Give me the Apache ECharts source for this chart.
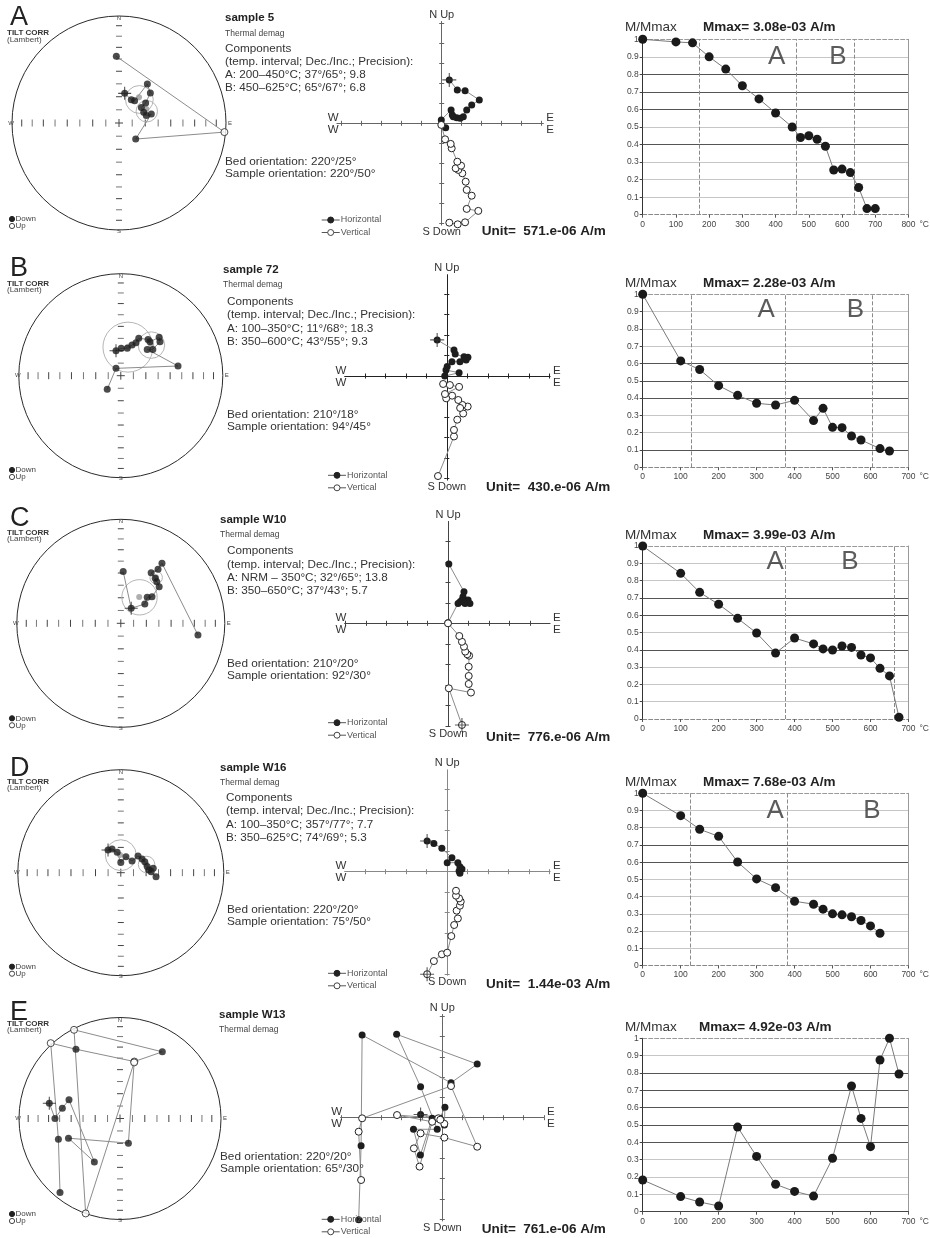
<!DOCTYPE html>
<html><head><meta charset="utf-8">
<script src="https://cdn.jsdelivr.net/npm/echarts@6/dist/echarts.min.js"></script>
<style>html,body{margin:0;padding:0;background:#fff}#chart{width:930px;height:1238px}</style>
</head><body><div id="chart"></div>
<script>
// ===================== DATA =====================
const panelLetters = ['A', 'B', 'C', 'D', 'E'];
const sampleNames = ['sample 5', 'sample 72', 'sample W10', 'sample W16', 'sample W13'];
const componentA = ['A: 200–450°C; 37°/65°; 9.8', 'A: 100–350°C; 11°/68°; 18.3', 'A: NRM – 350°C; 32°/65°; 13.8', 'A: 100–350°C; 357°/77°; 7.7', null];
const componentB = ['B: 450–625°C; 65°/67°; 6.8', 'B: 350–600°C; 43°/55°; 9.3', 'B: 350–650°C; 37°/43°; 5.7', 'B: 350–625°C; 74°/69°; 5.3', null];
const bedOrient = ['220°/25°', '210°/18°', '210°/20°', '220°/20°', '220°/20°'];
const sampleOrient = ['220°/50°', '94°/45°', '92°/30°', '75°/50°', '65°/30°'];
const unitLabels = ['571.e-06', '430.e-06', '776.e-06', '1.44e-03', '761.e-06'];
const mmaxLabels = ['3.08e-03', '2.28e-03', '3.99e-03', '7.68e-03', '4.92e-03'];
const yTickLabels = ['0', '0.1', '0.2', '0.3', '0.4', '0.5', '0.6', '0.7', '0.8', '0.9', '1'];

// Demagnetisation curves (temperature °C, M/Mmax)
const demagTempA = [0, 100, 150, 200, 250, 300, 350, 400, 450, 475, 500, 525, 550, 575, 600, 625, 650, 675, 700];
const demagValA = [1.0, 0.985, 0.98, 0.90, 0.83, 0.735, 0.66, 0.58, 0.50, 0.44, 0.45, 0.43, 0.39, 0.255, 0.26, 0.24, 0.155, 0.035, 0.035];
const demagTempB = [0, 100, 150, 200, 250, 300, 350, 400, 450, 475, 500, 525, 550, 575, 625, 650];
const demagValB = [1.0, 0.615, 0.565, 0.472, 0.416, 0.37, 0.36, 0.387, 0.27, 0.341, 0.231, 0.229, 0.181, 0.158, 0.108, 0.094];
const demagTempC = [0, 100, 150, 200, 250, 300, 350, 400, 450, 475, 500, 525, 550, 575, 600, 625, 650, 675];
const demagValC = [1.0, 0.842, 0.732, 0.663, 0.582, 0.497, 0.381, 0.468, 0.434, 0.405, 0.399, 0.422, 0.414, 0.37, 0.353, 0.293, 0.249, 0.01];
const demagTempD = [0, 100, 150, 200, 250, 300, 350, 400, 450, 475, 500, 525, 550, 575, 600, 625];
const demagValD = [1.0, 0.87, 0.791, 0.75, 0.601, 0.503, 0.452, 0.373, 0.356, 0.327, 0.30, 0.294, 0.283, 0.261, 0.23, 0.187];
const demagTempE = [0, 100, 150, 200, 250, 300, 350, 400, 450, 500, 550, 575, 600, 625, 650, 675];
const demagValE = [0.183, 0.087, 0.056, 0.033, 0.488, 0.319, 0.158, 0.117, 0.09, 0.308, 0.725, 0.538, 0.375, 0.875, 1.0, 0.794];
const demagMaxT = [800, 700, 700, 700, 700];
const boundaryTemps = [[170, 462, 637], [127, 375, 605], [375, 662], [125, 380], []];

// Stereonets: Lambert projected [east, north, isUp]
const stereoA = [[0.053, 0.277, 0], [0.115, 0.218, 0], [0.146, 0.209, 0], [0.265, 0.364, 0], [0.293, 0.28, 0], [0.249, 0.187, 0], [0.209, 0.146, 0], [0.231, 0.1, 0], [0.255, 0.069, 0], [0.302, 0.084, 0], [0.156, -0.15, 0], [0.985, -0.085, 1], [-0.025, 0.623, 0]];
const stereoB = [[-0.047, 0.245, 0], [0.004, 0.268, 0], [0.063, 0.268, 0], [0.11, 0.3, 0], [0.149, 0.324, 0], [0.176, 0.366, 0], [0.267, 0.356, 0], [0.286, 0.333, 0], [0.376, 0.376, 0], [0.384, 0.333, 0], [0.314, 0.258, 0], [0.259, 0.258, 0], [0.561, 0.095, 0], [-0.047, 0.072, 0], [-0.133, -0.133, 0]];
const stereoC = [[0.023, 0.497, 0], [0.1, 0.144, 0], [0.231, 0.186, 0], [0.254, 0.25, 0], [0.3, 0.256, 0], [0.369, 0.352, 0], [0.346, 0.4, 0], [0.331, 0.432, 0], [0.292, 0.487, 0], [0.358, 0.519, 0], [0.396, 0.577, 0], [0.742, -0.113, 0]];
const stereoD = [[-0.124, 0.221, 0], [-0.085, 0.231, 0], [-0.035, 0.198, 0], [0.0, 0.098, 0], [0.05, 0.156, 0], [0.109, 0.114, 0], [0.167, 0.162, 0], [0.206, 0.133, 0], [0.233, 0.107, 0], [0.256, 0.059, 0], [0.315, 0.042, 0], [0.272, 0.026, 0], [0.295, 0.01, 0], [0.342, -0.039, 0]];
const stereoE = [[-0.594, -0.733, 0], [-0.61, -0.205, 0], [-0.686, 0.746, 1], [-0.436, 0.686, 0], [0.142, 0.564, 1], [0.419, 0.66, 0], [-0.455, 0.878, 1], [-0.34, -0.94, 1], [0.14, 0.555, 1], [0.083, -0.244, 0], [-0.51, -0.195, 0], [-0.254, -0.43, 0], [-0.505, 0.185, 0], [-0.571, 0.102, 0], [-0.644, 0.0, 0], [-0.7, 0.152, 0]];
const stereoCrossIdx = [0, 0, 1, 0, 15];
const meanA = [[0.187, 0.24], [0.255, 0.131]];
const meanB = [[0.071, 0.284], [0.298, 0.301]];
const meanC = [[0.177, 0.252], [0.338, 0.442]];
const meanD = [[-0.007, 0.172], [0.245, 0.081]];
const meanE = [];
const alpha95A = [[0.19, 0.22, 0.13], [0.26, 0.11, 0.1]];
const alpha95B = [[0.07, 0.28, 0.245], [0.3, 0.3, 0.13]];
const alpha95C = [[0.18, 0.25, 0.17], [0.34, 0.44, 0.06]];
const alpha95D = [[0.0, 0.17, 0.15], [0.25, 0.08, 0.08]];
const alpha95E = [];
const stereoTickInc = [10, 20, 30, 40, 50, 60, 70, 80];

// Zijderveld (units of the diagram tick): horizontal [E, N], vertical [E, Up]
const zijHA = [[0.38, 2.17], [0.78, 1.67], [1.17, 1.63], [1.88, 1.17], [1.5, 0.92], [1.25, 0.67], [1.08, 0.33], [0.92, 0.25], [0.75, 0.28], [0.58, 0.33], [0.53, 0.42], [0.47, 0.67], [-0.02, 0.17], [0.2, -0.22]];
const zijVA = [[0.38, -4.97], [0.8, -5.05], [1.17, -4.95], [1.83, -4.38], [1.25, -4.28], [1.5, -3.62], [1.25, -3.33], [1.2, -2.92], [1.03, -2.5], [0.83, -2.33], [0.7, -2.25], [0.97, -2.12], [0.78, -1.92], [0.5, -1.25], [0.45, -1.03], [0.17, -0.8], [-0.02, -0.08]];
const zijHB = [[-0.47, 1.76], [0.35, 1.27], [0.41, 1.07], [0.84, 0.94], [1.03, 0.91], [0.94, 0.78], [0.64, 0.7], [0.25, 0.7], [0.02, 0.46], [-0.04, 0.29], [0.6, 0.16], [-0.1, 0.0]];
const zijVB = [[-0.43, -4.88], [0.35, -2.95], [0.35, -2.63], [0.51, -2.13], [0.8, -1.83], [1.02, -1.49], [0.76, -1.41], [0.65, -1.56], [0.56, -1.17], [0.26, -0.96], [-0.03, -1.09], [-0.09, -0.88], [0.6, -0.53], [0.15, -0.44], [-0.18, -0.39]];
const zijHC = [[0.04, 2.89], [0.78, 1.54], [0.73, 1.3], [0.98, 1.14], [0.68, 1.14], [0.59, 1.05], [0.83, 0.97], [1.07, 0.97], [0.49, 0.97], [0.0, 0.03]];
const zijVC = [[0.68, -4.96], [0.04, -3.17], [1.12, -3.38], [1.01, -2.96], [1.01, -2.57], [1.01, -2.12], [1.03, -1.58], [0.94, -1.51], [0.84, -1.38], [0.78, -1.14], [0.68, -0.9], [0.55, -0.62], [0.0, 0.0]];
const zijHD = [[-0.98, 1.5], [-0.65, 1.38], [-0.26, 1.14], [0.23, 0.68], [0.0, 0.44], [0.52, 0.44], [0.62, 0.24], [0.72, 0.13], [0.58, 0.03], [0.62, -0.08]];
const zijVD = [[-0.98, -5.0], [-0.65, -4.36], [-0.26, -4.03], [0.0, -3.95], [0.2, -3.14], [0.34, -2.6], [0.52, -2.28], [0.46, -1.9], [0.62, -1.66], [0.66, -1.46], [0.58, -1.3], [0.43, -1.17], [0.43, -0.93]];
const zijHE = [[-4.12, -5.03], [-4.0, -1.38], [-3.95, 4.07], [0.43, 1.72], [1.72, 2.64], [-2.25, 4.11], [-1.07, 1.52], [-0.25, -0.57], [-1.42, -0.57], [-1.08, -1.84], [-0.5, -0.03], [-1.07, 0.16], [-0.12, -0.03], [0.13, 0.51], [0.1, -0.36]];
const zijVE = [[-4.0, -3.07], [-4.12, -0.69], [-3.95, -0.03], [0.43, 1.56], [1.72, -1.43], [0.1, -0.98], [-1.07, -0.77], [-1.4, -1.51], [-1.12, -2.41], [-0.5, -0.2], [-2.23, 0.13], [-0.2, -0.03], [0.1, -0.3], [-0.1, -0.1]];
const zijCrossH = [0, 0, null, 0, 11];
const zijCrossV = [null, null, 0, 0, null];
const zijTicks = [-5, -4, -3, -2, -1, 1, 2, 3, 4, 5];

// ===================== LAYOUT / STYLE =====================
const FF = '"Liberation Sans", Arial, Helvetica, sans-serif';
const stereoLayout = [{cx: 119, cy: 123, r: 107}, {cx: 120.8, cy: 375.7, r: 102}, {cx: 120.8, cy: 623.3, r: 104}, {cx: 120.8, cy: 872.7, r: 103}, {cx: 120, cy: 1118.5, r: 101}];
const zijLayout = [
  {cx: 441.7, cy: 123.3, s: 20, x0: -5.23, x1: 5.07, y0: -5.08, y1: 5.08, col: '#666'},
  {cx: 446.8, cy: 376, s: 20.5, x0: -4.97, x1: 5.03, y0: -5.07, y1: 4.93, col: '#222'},
  {cx: 448, cy: 623.3, s: 20.5, x0: -5.03, x1: 4.97, y0: -5.04, y1: 4.96, col: '#444'},
  {cx: 447.2, cy: 871.7, s: 20.5, x0: -4.99, x1: 5.01, y0: -5.04, y1: 4.96, col: '#888'},
  {cx: 442.3, cy: 1117.7, s: 20.3, x0: -5.0, x1: 5.0, y0: -5.08, y1: 5.08, col: '#666'}
];
const demagLayout = [{top: 39.3, bottom: 214.7}, {top: 294.3, bottom: 467.3}, {top: 546, bottom: 719}, {top: 793.3, bottom: 965.5}, {top: 1038.3, bottom: 1211.7}];
const demagLeft = 642.7, demagRight = 911.7;
const Lg = '#c6c6c6', Dk = '#555', Tr = 'rgba(0,0,0,0)';
const gridColors = [
  [Tr, Lg, Lg, Lg, Dk, Lg, Dk, Dk, Dk, Lg, Tr],
  [Tr, Dk, Lg, Lg, Dk, Dk, Dk, Lg, Lg, Lg, Tr],
  [Tr, Lg, Lg, Lg, Dk, Lg, Dk, Dk, Lg, Lg, Tr],
  [Tr, Lg, Lg, Lg, Lg, Lg, Dk, Dk, Lg, Lg, Tr],
  [Tr, Lg, Lg, Lg, Dk, Dk, Dk, Dk, Dk, Lg, Tr]
];
const compLabelPos = [[[403, 0.9], [588, 0.9]], [[325, 0.91], [560, 0.91]], [[349, 0.907], [546, 0.907]], [[349, 0.9], [604, 0.9]], []];
const letterY = [17.5, 269, 518.5, 768.5, 1012.5];
const tiltY = [33, 283.3, 532.3, 781.7, 1023.3];
const downY = [219, 470, 718.3, 966.7, 1214];
const sampleX = [225, 223, 220, 220, 219];
const sampleY = [18, 270, 520, 768.3, 1015];
const thermalY = [33.3, 285, 534.3, 782.3, 1030];
const compX = [225, 227, 227, 226];
const compY = [48.3, 301.7, 551, 797.7];
const bedX = [225, 227, 227, 227, 220];
const bedY = [161.7, 414.3, 663.3, 909.3, 1156.7];
const legX = [321.7, 328, 328, 328, 321.7];
const legY = [220, 475.3, 722.7, 973.3, 1219.3];
const unitX = [481.7, 486, 486, 486, 481.7];
const unitY = [231.7, 487.3, 737.3, 984.3, 1229.3];
const mmY = [27, 283.3, 535, 782, 1027.3];
const mmaxX = [703, 703, 703, 703, 699];

// ===================== BUILD =====================
const demagTemps = [demagTempA, demagTempB, demagTempC, demagTempD, demagTempE];
const demagVals = [demagValA, demagValB, demagValC, demagValD, demagValE];
const stereos = [stereoA, stereoB, stereoC, stereoD, stereoE];
const means = [meanA, meanB, meanC, meanD, meanE];
const alphas = [alpha95A, alpha95B, alpha95C, alpha95D, alpha95E];
const zijH = [zijHA, zijHB, zijHC, zijHD, zijHE];
const zijV = [zijVA, zijVB, zijVC, zijVD, zijVE];

const CROSS = 'path://M0,4.6H10V5.4H0ZM4.6,0H5.4V10H4.6Z';
const grids = [], xAxes = [], yAxes = [], series = [], graphics = [];
const addGrid = g => (grids.push(g), grids.length - 1);
const addX = a => (xAxes.push(a), xAxes.length - 1);
const addY = a => (yAxes.push(a), yAxes.length - 1);

function txt(x, y, text, size, o) {
  o = o || {};
  const al = o.align || 'left';
  graphics.push({type: 'text', x: x, y: y, silent: true, z: 50,
    style: {text: text, font: (o.bold ? 'bold ' : '') + size + 'px ' + FF, fill: o.color || '#333',
      align: al, textAlign: al, verticalAlign: 'middle', textVerticalAlign: 'middle'}});
}
function gline(x1, y1, x2, y2, col, w) {
  graphics.push({type: 'line', silent: true, z: 50, shape: {x1: x1, y1: y1, x2: x2, y2: y2}, style: {stroke: col, lineWidth: w || 1}});
}
function gcirc(cx, cy, r, fill, stroke) {
  graphics.push({type: 'circle', silent: true, z: 51, shape: {cx: cx, cy: cy, r: r}, style: {fill: fill, stroke: stroke, lineWidth: 1}});
}

function seg(x1, y1, x2, y2, col) {
  return {type: 'line', shape: {x1: x1, y1: y1, x2: x2, y2: y2}, style: {stroke: col, lineWidth: 1}};
}
function stereoFrame(params, api) {
  const c = api.coord([0, 0]);
  const rx = api.coord([1, 0])[0] - c[0];
  const ry = c[1] - api.coord([0, 1])[1];
  const ch = [{type: 'circle', shape: {cx: c[0], cy: c[1], r: rx}, style: {fill: 'none', stroke: '#2a2a2a', lineWidth: 1}}];
  ch.push(seg(c[0] - 4, c[1], c[0] + 4, c[1], '#444'), seg(c[0], c[1] - 4, c[0], c[1] + 4, '#444'));
  stereoTickInc.forEach(function (inc, k) {
    const d = Math.SQRT2 * Math.sin((90 - inc) / 2 * Math.PI / 180);
    const col = k % 2 ? '#777' : '#444';
    const px = d * rx, py = d * ry;
    ch.push(seg(c[0] + px, c[1] - 3.5, c[0] + px, c[1] + 3.5, col));
    ch.push(seg(c[0] - px, c[1] - 3.5, c[0] - px, c[1] + 3.5, col));
    ch.push(seg(c[0] - 3, c[1] - py, c[0] + 3, c[1] - py, col));
    ch.push(seg(c[0] - 3, c[1] + py, c[0] + 3, c[1] + py, col));
  });
  const lab = function (t, x, y) {
    return {type: 'text', style: {text: t, x: x, y: y, font: '6px ' + FF, fill: '#444', align: 'center', verticalAlign: 'middle', textAlign: 'center', textVerticalAlign: 'middle'}};
  };
  ch.push(lab('N', c[0], c[1] - ry + 2.5), lab('S', c[0], c[1] + ry + 1), lab('W', c[0] - rx - 1, c[1]), lab('E', c[0] + rx + 4, c[1]));
  return {type: 'group', children: ch};
}
function ringItem(params, api) {
  const c = api.coord([api.value(0), api.value(1)]);
  const r = api.size([api.value(2), 0])[0];
  return {type: 'circle', shape: {cx: c[0], cy: c[1], r: r}, style: {fill: 'none', stroke: '#b5b5b5', lineWidth: 1}};
}

for (let i = 0; i < 5; i++) {
  // ---------- Stereonet ----------
  const S = stereoLayout[i];
  let gi = addGrid({left: S.cx - S.r, top: S.cy - S.r, width: 2 * S.r, height: 2 * S.r});
  let xi = addX({type: 'value', gridIndex: gi, min: -1, max: 1, show: false});
  let yi = addY({type: 'value', gridIndex: gi, min: -1, max: 1, show: false});
  const sAx = {xAxisIndex: xi, yAxisIndex: yi};
  series.push(Object.assign({type: 'custom', silent: true, z: 1, data: [[0, 0]], renderItem: stereoFrame, clip: false}, sAx));
  if (alphas[i].length) series.push(Object.assign({type: 'custom', silent: true, z: 2, data: alphas[i], renderItem: ringItem}, sAx));
  const pts = stereos[i];
  series.push(Object.assign({type: 'line', silent: true, z: 3, symbol: 'none', data: pts.map(p => [p[0], p[1]]), lineStyle: {color: '#8c8c8c', width: 1}}, sAx));
  if (means[i].length) series.push(Object.assign({type: 'scatter', silent: true, z: 4, data: means[i], symbolSize: 6, itemStyle: {color: '#9a9a9a'}}, sAx));
  series.push(Object.assign({type: 'scatter', silent: true, z: 5, data: pts.filter(p => !p[2]).map(p => [p[0], p[1]]), symbolSize: 7, itemStyle: {color: '#1e1e1e'}}, sAx));
  series.push(Object.assign({type: 'scatter', silent: true, z: 5, data: pts.filter(p => p[2]).map(p => [p[0], p[1]]), symbolSize: 7, itemStyle: {color: '#fff', borderColor: '#222', borderWidth: 1}}, sAx));
  const cp = pts[stereoCrossIdx[i]];
  series.push(Object.assign({type: 'scatter', silent: true, z: 6, data: [[cp[0], cp[1]]], symbol: CROSS, symbolSize: 13, itemStyle: {color: '#222'}}, sAx));

  txt(10, letterY[i], panelLetters[i], 27, {color: '#222'});
  txt(7, tiltY[i], 'TILT CORR', 8, {bold: true, color: '#333'});
  txt(7, tiltY[i] + 6.5, '(Lambert)', 8, {color: '#444'});
  gcirc(12, downY[i], 2.6, '#222', '#222');
  txt(15.5, downY[i], 'Down', 8, {color: '#444'});
  gcirc(12, downY[i] + 7, 2.6, '#fff', '#444');
  txt(15.5, downY[i] + 7, 'Up', 8, {color: '#444'});

  // ---------- Text block ----------
  txt(sampleX[i], sampleY[i], sampleNames[i], 11.5, {bold: true, color: '#222'});
  txt(sampleX[i], thermalY[i], 'Thermal demag', 8.5, {color: '#444'});
  if (componentA[i]) {
    const cl = ['Components', '(temp. interval; Dec./Inc.; Precision):', componentA[i], componentB[i]];
    cl.forEach((t, k) => txt(compX[i], compY[i] + k * 13.3, t, 11.7, {color: '#333'}));
  }
  txt(bedX[i], bedY[i], 'Bed orientation: ' + bedOrient[i], 11.8, {color: '#333'});
  txt(bedX[i], bedY[i] + 12.2, 'Sample orientation: ' + sampleOrient[i], 11.8, {color: '#333'});

  // ---------- Zijderveld ----------
  const Z = zijLayout[i];
  const zl = Z.cx + Z.x0 * Z.s, zr = Z.cx + Z.x1 * Z.s, zt = Z.cy - Z.y1 * Z.s, zb = Z.cy - Z.y0 * Z.s;
  gi = addGrid({left: zl, top: zt, width: zr - zl, height: zb - zt});
  const zAxis = function (min, max, pos) {
    return {type: 'value', gridIndex: gi, min: min, max: max, position: pos,
      axisLabel: {show: false}, splitLine: {show: false},
      axisLine: {show: true, onZero: true, lineStyle: {color: Z.col, width: 1}},
      axisTick: {show: true, length: 2.5, customValues: zijTicks, lineStyle: {color: Z.col, width: 1}}};
  };
  xi = addX(zAxis(Z.x0, Z.x1, 'bottom'));
  addX(zAxis(Z.x0, Z.x1, 'top'));
  yi = addY(zAxis(Z.y0, Z.y1, 'left'));
  addY(zAxis(Z.y0, Z.y1, 'right'));
  const zAx = {xAxisIndex: xi, yAxisIndex: yi};
  series.push(Object.assign({type: 'line', silent: true, z: 4, data: zijH[i], symbol: 'circle', symbolSize: 7, showAllSymbol: true,
    lineStyle: {color: '#8c8c8c', width: 1}, itemStyle: {color: '#1e1e1e'}}, zAx));
  series.push(Object.assign({type: 'line', silent: true, z: 4, data: zijV[i], symbol: 'circle', symbolSize: 7, showAllSymbol: true,
    lineStyle: {color: '#8c8c8c', width: 1}, itemStyle: {color: '#fff', borderColor: '#222', borderWidth: 1}}, zAx));
  const zc = [];
  if (zijCrossH[i] != null) zc.push(zijH[i][zijCrossH[i]]);
  if (zijCrossV[i] != null) zc.push(zijV[i][zijCrossV[i]]);
  if (zc.length) series.push(Object.assign({type: 'scatter', silent: true, z: 6, data: zc, symbol: CROSS, symbolSize: 14, itemStyle: {color: '#333'}}, zAx));

  txt(Z.cx, zt - 7, 'N Up', 11, {align: 'center', color: '#333'});
  txt(Z.cx, zb + 7, 'S Down', 11, {align: 'center', color: '#333'});
  txt(zl - 4, Z.cy - 5.5, 'W', 11.5, {align: 'center', color: '#333'});
  txt(zl - 4, Z.cy + 6.5, 'W', 11.5, {align: 'center', color: '#333'});
  txt(zr + 7, Z.cy - 5.5, 'E', 11.5, {align: 'center', color: '#333'});
  txt(zr + 7, Z.cy + 6.5, 'E', 11.5, {align: 'center', color: '#333'});
  // legend
  gline(legX[i], legY[i], legX[i] + 18, legY[i], '#555', 1);
  gcirc(legX[i] + 9, legY[i], 3, '#222', '#222');
  txt(legX[i] + 19, legY[i], 'Horizontal', 9, {color: '#555'});
  gline(legX[i], legY[i] + 12.5, legX[i] + 18, legY[i] + 12.5, '#555', 1);
  gcirc(legX[i] + 9, legY[i] + 12.5, 3, '#fff', '#444');
  txt(legX[i] + 19, legY[i] + 12.5, 'Vertical', 9, {color: '#555'});
  txt(unitX[i], unitY[i], 'Unit=  ' + unitLabels[i] + ' A/m', 13.5, {bold: true, color: '#222'});

  // ---------- Demagnetisation curve ----------
  const D = demagLayout[i];
  gi = addGrid({left: demagLeft, top: D.top, width: demagRight - demagLeft, height: D.bottom - D.top});
  xi = addX({type: 'value', gridIndex: gi, min: 0, max: demagMaxT[i], interval: 100, position: 'bottom',
    axisLine: {show: true, onZero: false, lineStyle: {color: i === 4 ? '#444' : '#888', type: i === 4 ? 'solid' : 'dashed'}},
    axisTick: {show: true, length: 3, lineStyle: {color: '#555'}},
    axisLabel: {fontSize: 8.5, color: '#444', margin: 5, fontFamily: FF},
    splitLine: {show: false},
    name: '°C', nameLocation: 'end', nameGap: 7,
    nameTextStyle: {fontSize: 8.5, color: '#444', fontFamily: FF, verticalAlign: 'top', align: 'left', padding: [5, 0, 0, 0]}});
  addX({type: 'value', gridIndex: gi, min: 0, max: demagMaxT[i], position: 'top',
    axisLine: {show: true, onZero: false, lineStyle: {color: '#999', type: 'dashed'}},
    axisTick: {show: false}, axisLabel: {show: false}, splitLine: {show: false}});
  yi = addY({type: 'value', gridIndex: gi, min: 0, max: 1, interval: 0.1, position: 'left',
    axisLine: {show: true, onZero: false, lineStyle: {color: '#333'}},
    axisTick: {show: true, length: 3, lineStyle: {color: '#444'}},
    axisLabel: {fontSize: 8.5, color: '#444', margin: 4, fontFamily: FF, formatter: v => yTickLabels[Math.round(v * 10)]},
    splitLine: {show: true, lineStyle: {color: gridColors[i], width: 1}}});
  addY({type: 'value', gridIndex: gi, min: 0, max: 1, position: 'right',
    axisLine: {show: true, onZero: false, lineStyle: {color: '#9a9a9a'}},
    axisTick: {show: false}, axisLabel: {show: false}, splitLine: {show: false}});
  const dAx = {xAxisIndex: xi, yAxisIndex: yi};
  series.push(Object.assign({type: 'line', silent: true, z: 5, data: demagTemps[i].map((t, k) => [t, demagVals[i][k]]),
    symbol: 'circle', symbolSize: 9, showAllSymbol: true, itemStyle: {color: '#1a1a1a'}, lineStyle: {color: '#7a7a7a', width: 1},
    markLine: {silent: true, symbol: ['none', 'none'], label: {show: false}, animation: false,
      lineStyle: {type: 'dashed', color: '#8a8a8a', width: 1}, data: boundaryTemps[i].map(t => ({xAxis: t}))}}, dAx));
  if (compLabelPos[i].length) {
    series.push(Object.assign({type: 'scatter', silent: true, z: 6, symbolSize: 1, itemStyle: {color: 'rgba(0,0,0,0)'},
      data: compLabelPos[i].map((p, k) => ({value: p, name: ['A', 'B'][k]})),
      label: {show: true, position: 'inside', formatter: p => p.name, fontSize: 26, color: '#333', fontFamily: FF}}, dAx));
  }
  txt(625, mmY[i], 'M/Mmax', 13.5, {color: '#333'});
  txt(mmaxX[i], mmY[i], 'Mmax= ' + mmaxLabels[i] + ' A/m', 13.5, {bold: true, color: '#222'});
}

const chart = echarts.init(document.getElementById('chart'), null, {renderer: 'canvas', width: 930, height: 1238});
chart.setOption({
  animation: false,
  backgroundColor: '#fff',
  textStyle: {fontFamily: FF},
  grid: grids, xAxis: xAxes, yAxis: yAxes, series: series,
  graphic: {elements: graphics}
});
</script></body></html>
